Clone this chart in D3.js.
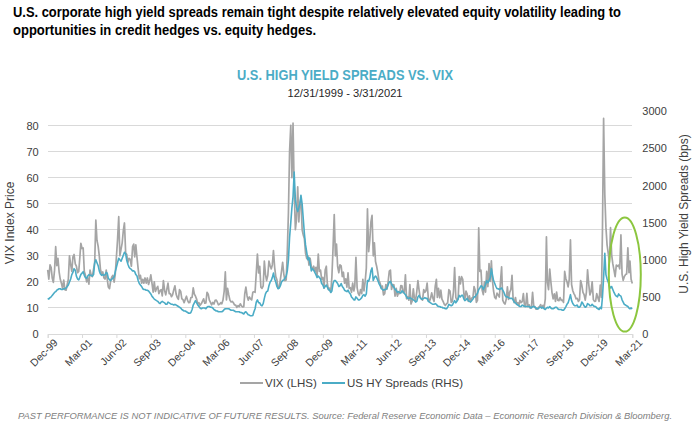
<!DOCTYPE html>
<html><head><meta charset="utf-8">
<script src="https://cdn.jsdelivr.net/npm/d3@7"></script>
<style>body{margin:0;background:#fff}svg{display:block}</style>
</head><body><svg id="c" width="700" height="426"></svg>
<script>
// ---- DATA (semi-monthly: 12/31/1999, then mid-month & month-end) ----
const startDate = "1999-12-31";
const vixValues = [
  24.6,
  21.0,26.5, 25.5,21.5, 19.8,24.5, 33.5,26.2, 29.0,23.7, 21.0,19.5, 17.5,20.7, 17.0,16.8, 19.0,21.0, 30.0,26.6, 24.0,29.6, 30.5,26.9,
  26.0,23.5, 24.0,28.7, 34.8,32.8, 33.0,24.0, 22.5,20.0, 21.5,19.1, 24.5,22.5, 22.0,24.9, 27.5,43.7, 36.0,33.6, 30.0,24.9, 23.0,23.8,
  21.5,21.1, 24.5,21.1, 18.0,17.4, 20.5,21.9, 22.5,19.9, 23.0,29.5, 36.0,45.0, 30.0,32.6, 35.0,39.7, 42.6,31.1, 30.5,27.5, 29.0,28.6,
  26.0,33.5, 34.5,29.6, 34.2,29.2, 25.0,21.2, 22.5,19.5, 21.0,19.5, 21.5,19.5, 21.5,19.0, 20.5,22.7, 19.5,16.1, 20.0,16.3, 17.5,18.3,
  15.5,16.6, 17.0,14.6, 20.5,16.7, 15.0,17.2, 19.5,15.5, 15.5,14.3, 15.0,17.0, 18.5,15.3, 14.0,13.3, 17.0,16.3, 13.5,13.2, 12.0,13.3,
  14.5,12.8, 12.0,12.1, 14.0,14.0, 17.7,15.3, 14.5,13.3, 11.5,12.0, 11.0,11.6, 12.5,13.5, 11.8,11.9, 16.0,15.3, 13.0,12.1, 11.2,12.1,
  11.5,12.9, 13.0,12.3, 11.2,11.4, 12.0,11.6, 13.0,16.4, 23.8,13.1, 17.5,15.0, 13.0,12.3, 12.5,12.0, 11.2,11.1, 10.2,10.9, 10.5,11.6,
  10.8,10.4, 10.5,15.4, 18.0,14.6, 13.0,14.2, 13.5,13.1, 16.0,16.2, 16.0,23.5, 30.7,23.4, 26.0,18.0, 17.5,18.5, 28.0,22.9, 20.5,22.5,
  28.0,26.2, 25.0,26.5, 32.0,25.6, 22.0,20.8, 17.5,17.8, 21.0,24.0, 27.5,22.9, 20.5,20.7, 31.7,46.7, 69.9,80.1, 60.0,80.9, 56.0,40.0,
  44.0,56.5, 43.0,50.0, 52.0,40.0, 38.0,36.5, 31.0,28.9, 30.0,26.4, 29.0,25.9, 25.0,26.0, 24.0,25.6, 22.0,30.7, 24.0,24.5, 21.0,21.7,
  17.6,24.6, 26.0,19.5, 17.0,17.6, 16.0,22.0, 32.8,45.8, 30.0,34.5, 26.0,23.5, 26.5,26.1, 22.0,23.7, 19.5,21.2, 18.0,23.5, 17.5,17.8,
  16.0,19.5, 16.5,18.4, 29.4,17.7, 15.5,14.8, 17.0,15.5, 21.0,16.5, 20.0,25.3, 48.0,31.6, 36.0,43.0, 45.5,30.0, 35.0,27.8, 26.0,23.4,
  20.5,19.4, 17.8,18.4, 15.0,15.5, 19.0,17.2, 20.0,24.1, 24.5,17.1, 19.0,18.9, 14.5,17.5, 14.5,15.7, 15.5,18.6, 18.5,15.9, 16.0,22.7,
  13.5,14.3, 13.0,19.0, 11.5,12.7, 17.3,13.5, 13.0,16.3, 20.5,16.9, 14.0,13.5, 13.0,17.0, 16.0,16.6, 19.5,13.8, 12.5,13.7, 15.8,13.7,
  12.5,18.4, 21.0,14.0, 17.5,13.9, 16.8,13.4, 12.5,11.4, 11.0,11.6, 12.0,17.0, 16.5,12.1, 12.5,16.3, 25.5,14.0, 13.0,13.3, 22.0,19.2,
  22.0,21.0, 15.5,13.3, 16.5,15.3, 12.5,14.6, 12.5,13.8, 14.0,18.2, 16.8,12.1, 13.0,40.7, 24.0,24.5, 17.0,15.1, 20.0,16.1, 24.0,18.2,
  27.0,20.2, 28.1,20.6, 16.5,14.0, 13.5,15.7, 15.0,14.2, 20.0,25.8, 13.0,11.9, 11.5,13.4, 18.1,13.3, 16.0,17.1, 22.5,13.3, 12.0,14.0,
  11.5,12.0, 11.0,12.9, 12.0,12.4, 15.5,10.8, 10.5,15.6, 10.5,11.2, 9.9,10.3, 16.0,10.6, 10.5,9.5, 9.5,10.2, 10.5,11.3, 10.0,11.0,
  10.0,13.5, 37.3,19.9, 17.0,24.9, 20.0,15.9, 13.5,15.4, 12.5,16.1, 13.0,12.8, 14.0,12.9, 13.0,12.1, 24.0,21.2, 20.0,18.1, 21.0,36.1,
  19.0,16.6, 15.5,14.8, 13.5,13.7, 12.5,13.1, 20.5,18.7, 16.0,15.1, 13.0,16.1, 24.6,19.0, 15.0,16.2, 20.0,13.2, 12.5,12.6, 15.5,13.8,
  12.5,18.8, 14.0,40.1, 82.7,53.5, 41.0,34.2, 31.0,27.5, 40.8,30.4, 27.0,24.5, 22.0,26.4, 26.0,26.4, 25.0,38.0, 23.0,20.6, 22.0,22.8,
  23.0,33.1, 23.5,28.0, 21.0,19.4
];
const hySpreads = [
  480,
  470,490, 500,520, 540,560, 570,590, 600,610, 610,600, 600,610, 610,620, 640,660, 700,740, 800,830, 880,860,
  780,740, 730,760, 800,820, 840,790, 760,750, 780,800, 790,790, 780,800, 960,1000, 960,920, 850,810, 790,800,
  790,800, 830,820, 750,730, 720,740, 750,770, 840,900, 960,1020, 1000,980, 1020,1060, 1100,1080, 990,940, 900,880,
  870,850, 850,840, 800,780, 720,680, 660,640, 610,600, 600,590, 590,580, 560,540, 510,490, 470,460, 450,440,
  420,410, 430,440, 430,420, 400,400, 430,420, 410,400, 400,390, 400,390, 380,370, 360,350, 330,320, 310,310,
  300,290, 280,280, 290,330, 390,420, 450,420, 390,370, 350,340, 350,350, 350,340, 360,370, 370,360, 360,350,
  330,320, 310,310, 300,300, 300,300, 310,330, 340,340, 340,340, 330,320, 320,320, 310,300, 300,300, 300,290,
  290,280, 270,290, 300,280, 260,255, 245,245, 250,300, 340,430, 460,420, 420,390, 380,410, 480,540, 570,580,
  650,700, 720,760, 820,740, 700,640, 610,620, 650,700, 720,730, 750,780, 850,1000, 1300,1500, 1700,1850, 2180,1810,
  1700,1650, 1700,1750, 1870,1750, 1550,1350, 1200,1100, 1000,1030, 950,850, 880,860, 830,800, 760,780, 760,740, 680,660,
  620,640, 660,630, 600,590, 560,580, 680,720, 720,700, 680,640, 650,680, 640,620, 590,580, 570,590, 560,540,
  500,480, 460,460, 500,480, 460,460, 470,490, 520,530, 510,540, 720,710, 760,850, 890,720, 760,780, 760,720,
  680,650, 610,600, 590,600, 600,620, 660,700, 710,670, 650,630, 600,590, 560,570, 560,550, 580,570, 550,530,
  500,480, 480,490, 480,470, 460,450, 430,440, 500,520, 490,470, 470,480, 490,480, 480,440, 430,420, 410,400,
  400,410, 400,380, 370,370, 360,360, 350,350, 340,340, 360,400, 390,380, 390,420, 450,420, 440,470, 520,500,
  520,520, 470,450, 460,480, 450,440, 430,450, 470,500, 500,530, 550,600, 620,650, 640,600, 630,670, 720,690,
  720,760, 880,800, 720,680, 640,610, 610,600, 610,620, 590,560, 520,500, 500,490, 480,480, 480,460, 430,420,
  400,390, 380,370, 370,390, 380,370, 370,370, 370,370, 360,350, 370,370, 360,350, 340,340, 360,360, 350,360,
  340,330, 350,360, 350,370, 350,340, 340,350, 360,360, 340,330, 330,330, 320,320, 340,370, 400,420, 470,530,
  450,410, 390,380, 380,390, 360,360, 380,430, 410,380, 360,370, 410,400, 380,380, 400,380, 370,370, 350,340,
  330,360, 340,500, 760,1087, 800,740, 700,650, 620,640, 600,560, 530,510, 500,540, 520,510, 460,430, 400,390,
  380,370, 350,340, 350,340
];
const tickLabels = ["Dec-99","Mar-01","Jun-02","Sep-03","Dec-04","Mar-06","Jun-07","Sep-08","Dec-09",
  "Mar-11","Jun-12","Sep-13","Dec-14","Mar-16","Jun-17","Sep-18","Dec-19","Mar-21"];
const vixTicks = [0,10,20,30,40,50,60,70,80];
const hyTicks = [0,500,1000,1500,2000,2500,3000];
const seriesNames = ["VIX (LHS)", "US HY Spreads (RHS)"];
const headline = ["U.S. corporate high yield spreads remain tight despite relatively elevated equity volatility leading to",
  "opportunities in credit hedges vs. equity hedges."];
const chartTitle = "U.S. HIGH YIELD SPREADS VS. VIX";
const chartSubtitle = "12/31/1999 - 3/31/2021";
const footnote = "PAST PERFORMANCE IS NOT INDICATIVE OF FUTURE RESULTS. Source: Federal Reserve Economic Data \u2013 Economic Research Division & Bloomberg.";

// ---- build dates ----
const parseDay = d3.timeParse("%Y-%m-%d");
const d0 = parseDay(startDate);
function dateAt(i){
  if(i===0) return d0;
  const m = Math.floor((i-1)/2);
  return (i-1)%2===0 ? new Date(2000, m, 15) : new Date(2000, m+1, 0);
}
const dates = vixValues.map((v,i)=>dateAt(i));
const parseTick = d3.timeParse("%b-%y");
const tickDates = tickLabels.map(s=>{const d=parseTick(s); return new Date(d.getFullYear(), d.getMonth()+1, 0);});

// ---- layout ----
const GRAY="#a5a5a5", BLUE="#4bacc6", TXT="#404040";
const NARROW = "'Liberation Sans Narrow','Arial Narrow','Liberation Sans',Arial,sans-serif";
const SANS = "'Liberation Sans',Arial,sans-serif";
const svg = d3.select("#c");
svg.append("rect").attr("width",700).attr("height",426).attr("fill","#fff");

const x = d3.scaleTime().domain([d0, tickDates[tickDates.length-1]]).range([47.7, 632.3]);
const yL = d3.scaleLinear().domain([0,80]).range([334,125.5]);
const yR = d3.scaleLinear().domain([0,3000]).range([334,111.3]);

// gridlines
svg.append("g").selectAll("line").data(vixTicks).join("line")
  .attr("x1",47.7).attr("x2",632.3).attr("y1",d=>yL(d)).attr("y2",d=>yL(d))
  .attr("stroke","#d9d9d9").attr("stroke-width",1).attr("shape-rendering","crispEdges");

// left axis
const gl = svg.append("g").attr("transform","translate(47.7,0)")
  .call(d3.axisLeft(yL).tickValues(vixTicks).tickSize(0).tickPadding(9));
gl.select(".domain").remove();
gl.selectAll("text").attr("font-family",SANS).attr("font-size",11).attr("fill",TXT);

// right axis
const gr = svg.append("g").attr("transform","translate(632.3,0)")
  .call(d3.axisRight(yR).tickValues(hyTicks).tickSize(0).tickPadding(10).tickFormat(d3.format("d")));
gr.select(".domain").remove();
gr.selectAll("text").attr("font-family",SANS).attr("font-size",11).attr("fill",TXT);

// x axis
const gx = svg.append("g").attr("transform","translate(0,334)")
  .call(d3.axisBottom(x).tickValues(tickDates).tickSize(4).tickFormat((d,i)=>tickLabels[i]));
gx.select(".domain").attr("stroke","#d9d9d9");
gx.selectAll(".tick line").attr("stroke","#d9d9d9");
gx.selectAll("text").attr("font-family",SANS).attr("font-size",10.5).attr("fill",TXT)
  .attr("text-anchor","end").attr("transform","translate(3,2) rotate(-45)").attr("dy","0.6em").attr("y",4).attr("x",0);

// lines
const lineV = d3.line().x((d,i)=>x(dates[i])).y(d=>yL(d));
const lineH = d3.line().x((d,i)=>x(dates[i])).y(d=>yR(d));
svg.append("path").attr("d",lineV(vixValues)).attr("fill","none").attr("stroke",GRAY).attr("stroke-width",1.7).attr("stroke-linejoin","round");
svg.append("path").attr("d",lineH(hySpreads)).attr("fill","none").attr("stroke",BLUE).attr("stroke-width",1.6).attr("stroke-linejoin","round");

// green ellipse
svg.append("ellipse").attr("cx",x(dates[dates.length-1])-7.5).attr("cy",yR(800))
  .attr("rx",16).attr("ry",57).attr("fill","none").attr("stroke","#8cc63f").attr("stroke-width",2);

// axis titles
svg.append("text").attr("transform","translate(14,223) rotate(-90)").attr("text-anchor","middle")
  .attr("font-family",SANS).attr("font-size",12).attr("fill",TXT).text("VIX Index Price");
svg.append("text").attr("transform","translate(688,214) rotate(-90)").attr("text-anchor","middle")
  .attr("font-family",SANS).attr("font-size",12).attr("fill",TXT).text("U.S. High Yield Spreads (bps)");

// headline
svg.append("text").attr("x",13).attr("y",17).attr("font-family",NARROW).attr("font-weight","bold")
  .attr("font-size",14.5).attr("fill","#000").attr("textLength",608).attr("lengthAdjust","spacingAndGlyphs").text(headline[0]);
svg.append("text").attr("x",13).attr("y",35).attr("font-family",NARROW).attr("font-weight","bold")
  .attr("font-size",14.5).attr("fill","#000").attr("textLength",303).attr("lengthAdjust","spacingAndGlyphs").text(headline[1]);

// chart title
svg.append("text").attr("x",345).attr("y",80).attr("text-anchor","middle").attr("font-family",NARROW)
  .attr("font-weight","bold").attr("font-size",14).attr("fill",BLUE)
  .attr("textLength",216).attr("lengthAdjust","spacingAndGlyphs").text(chartTitle);
svg.append("text").attr("x",345).attr("y",97).attr("text-anchor","middle").attr("font-family",NARROW)
  .attr("font-size",11.5).attr("fill","#262626").attr("textLength",115).attr("lengthAdjust","spacingAndGlyphs").text(chartSubtitle);

// legend
const lg = svg.append("g").attr("transform","translate(0,383)");
[[240,GRAY,seriesNames[0],265],[322,BLUE,seriesNames[1],347]].forEach(([lx,c,t,tx])=>{
  lg.append("line").attr("x1",lx).attr("x2",lx+23).attr("y1",0).attr("y2",0).attr("stroke",c).attr("stroke-width",2);
  lg.append("text").attr("x",tx).attr("y",4).attr("font-family",NARROW).attr("font-size",11.5).attr("fill",TXT).text(t);
});

// footnote
svg.append("text").attr("x",18).attr("y",419).attr("font-family",NARROW).attr("font-style","italic")
  .attr("font-size",9.5).attr("fill","#808080").attr("textLength",654).attr("lengthAdjust","spacingAndGlyphs").text(footnote);
</script></body></html>
